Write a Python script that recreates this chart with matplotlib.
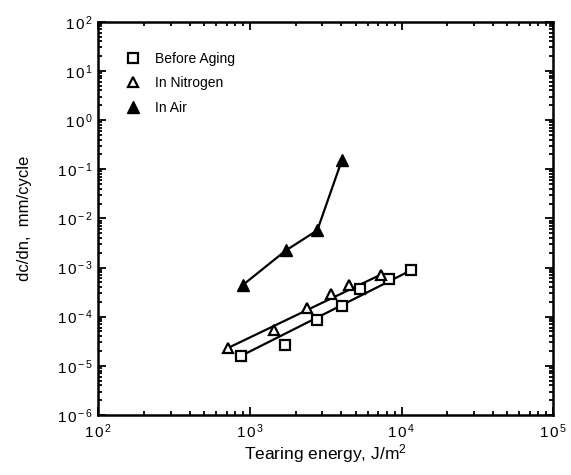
import numpy as np
import matplotlib
matplotlib.use('Agg')
import matplotlib.pyplot as plt
from matplotlib.ticker import LogLocator, FixedLocator, FuncFormatter, NullFormatter
from matplotlib.lines import Line2D

plt.rcParams['font.family'] = ['Liberation Sans', 'DejaVu Sans']
plt.rcParams['mathtext.fontset'] = 'custom'
plt.rcParams['mathtext.rm'] = 'Liberation Sans'
plt.rcParams['mathtext.it'] = 'Liberation Sans'

# tearing energy (J/m^2) and crack growth rate (mm/cycle)
before_x = [868, 1700, 2750, 4060, 5320, 8280, 11570]
before_y = [1.58e-5, 2.6e-5, 8.5e-5, 1.63e-4, 3.7e-4, 5.96e-4, 8.8e-4]

nitrogen_x = [720, 1446, 2365, 3430, 4520, 7330]
nitrogen_y = [2.33e-5, 5.3e-5, 1.51e-4, 2.96e-4, 4.5e-4, 7.2e-4]

air_x = [904, 1730, 2780, 4050]
air_y = [4.5e-4, 2.24e-3, 5.7e-3, 0.156]

series_labels = ['Before Aging', 'In Nitrogen', 'In Air']

fig = plt.figure(figsize=(5.71, 4.75), dpi=100)
ax = fig.add_axes([0.1725, 0.1263, 0.796, 0.828])
ax.set_xscale('log')
ax.set_yscale('log')
ax.set_xlim(1e2, 1e5)
ax.set_ylim(1e-6, 1e2)

# straight trend lines through first and last points
ax.plot([before_x[0], before_x[-1]], [before_y[0], before_y[-1]], color='black', lw=1.6, zorder=2)
ax.plot([nitrogen_x[0], nitrogen_x[-1]], [nitrogen_y[0], nitrogen_y[-1]], color='black', lw=1.6, zorder=2)
ax.plot(air_x, air_y, color='black', lw=1.6, zorder=2)

ax.plot(before_x, before_y, 's', ms=7, mfc='white', mec='black', mew=1.6, ls='none', zorder=3)
ax.plot(nitrogen_x, nitrogen_y, '^', ms=7, mfc='white', mec='black', mew=1.6, ls='none', zorder=3)
ax.plot(air_x, air_y, '^', ms=8, mfc='black', mec='black', ls='none', zorder=3)

def pow_fmt(v, pos):
    e = int(round(np.log10(v)))
    return r'$1\,0^{\,%d}$' % e if e >= 0 else r'$1\,0^{\,\mathrm{-}\,%d}$' % -e

ax.xaxis.set_major_locator(FixedLocator([1e2, 1e3, 1e4, 1e5]))
ax.yaxis.set_major_locator(FixedLocator([10.0**k for k in range(-6, 3)]))
ax.xaxis.set_minor_locator(LogLocator(base=10, subs=np.arange(2, 10)))
ax.yaxis.set_minor_locator(LogLocator(base=10, subs=np.arange(2, 10), numticks=20))
ax.xaxis.set_major_formatter(FuncFormatter(pow_fmt))
ax.yaxis.set_major_formatter(FuncFormatter(pow_fmt))
ax.xaxis.set_minor_formatter(NullFormatter())
ax.yaxis.set_minor_formatter(NullFormatter())

ax.tick_params(which='both', direction='in', top=True, right=True, width=1.3, labelsize=11)
ax.tick_params(which='major', length=6)
ax.tick_params(which='minor', length=3)
ax.tick_params(axis='x', pad=5)
ax.tick_params(axis='y', pad=4)
for s in ax.spines.values():
    s.set_linewidth(1.8)

ax.set_xlabel('Tearing energy, J/m$^2$', fontsize=12.5, labelpad=1)
ax.set_ylabel('dc/dn,  mm/cycle', fontsize=12, labelpad=18)

handles = [
    Line2D([], [], marker='s', ms=7, mfc='white', mec='black', mew=1.6, ls='none'),
    Line2D([], [], marker='^', ms=7, mfc='white', mec='black', mew=1.6, ls='none'),
    Line2D([], [], marker='^', ms=8, mfc='black', mec='black', ls='none'),
]
ax.legend(handles, series_labels, loc='upper left', bbox_to_anchor=(0.03, 0.955),
          frameon=False, fontsize=10, handlelength=1.2, handletextpad=1.0, labelspacing=0.75)

fig.savefig('out.png', dpi=100)
